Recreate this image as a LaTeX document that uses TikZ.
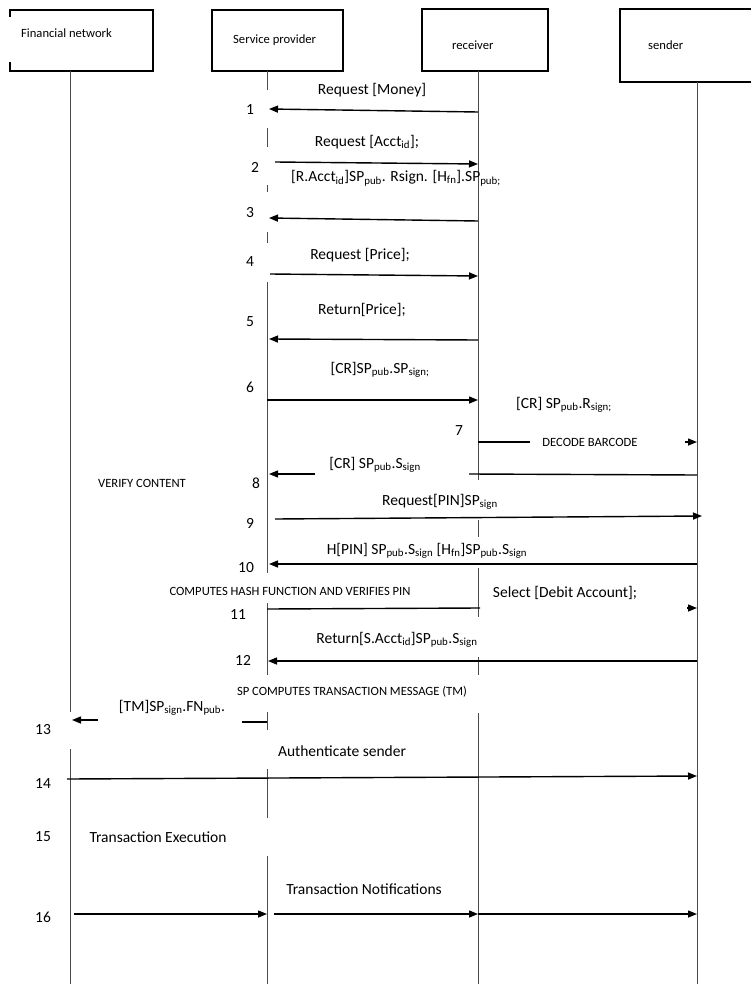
\documentclass[tikz,border=0pt]{standalone}
\usepackage{fontspec}
\setmainfont{Carlito}
\usetikzlibrary{arrows.meta}
\begin{document}
\begin{tikzpicture}[x=1pt,y=-1pt,
  hdr/.style={font=\fontsize{12.6}{14}\selectfont, anchor=west, inner sep=0pt},
  msg/.style={font=\fontsize{15.5}{18}\selectfont, inner sep=0pt},
  note/.style={font=\fontsize{12.6}{14}\selectfont, inner sep=0pt},
  num/.style={font=\fontsize{15.5}{18}\selectfont, inner sep=0pt},
  life/.style={line width=1pt, draw=black!70},
  boxline/.style={line width=1.2pt},
  msgline/.style={line width=1.4pt},
  msgarrow/.style={line width=1.4pt, -{Triangle[length=9pt,width=7pt]}},
]
\useasboundingbox (0,0) rectangle (750,984);

% lifeline positions
\coordinate (fn) at (70,0);
\coordinate (sp) at (267,0);
\coordinate (rc) at (478,0);
\coordinate (sd) at (697,0);

% header boxes
\draw[boxline] (10,17) -- (10,10) -- (153,10) -- (153,71) -- (10,71) -- (10,62);
\node[hdr] (fnT) at (21,33) {Financial network};
\draw[boxline] (212,10) rectangle (343,71);
\node[hdr] (spT) at (233,40) {Service provider};
\draw[boxline] (422,9) rectangle (548,71);
\node[hdr] (rcT) at (452,45) {receiver};
\draw[boxline] (620,9) rectangle (760,82);
\node[hdr] (sdT) at (648,45) {sender};

% lifelines
\draw[life] (fn |- 0,71) -- (fn |- 0,712) (fn |- 0,749) -- (fn |- 0,984);
\draw[life] (sp |- 0,71) -- (sp |- 0,90)
            (sp |- 0,128) -- (sp |- 0,147)
            (sp |- 0,185) -- (sp |- 0,192)
            (sp |- 0,232) -- (sp |- 0,243)
            (sp |- 0,282) -- (sp |- 0,573)
            (sp |- 0,603) -- (sp |- 0,675)
            (sp |- 0,712) -- (sp |- 0,730)
            (sp |- 0,769) -- (sp |- 0,818)
            (sp |- 0,856) -- (sp |- 0,984);
\draw[life] (rc |- 0,71) -- (rc |- 0,480)
            (rc |- 0,520) -- (rc |- 0,537)
            (rc |- 0,568) -- (rc |- 0,617)
            (rc |- 0,657) -- (rc |- 0,675)
            (rc |- 0,713) -- (rc |- 0,984);
\draw[life] (sd |- 0,82) -- (sd |- 0,984);

% 1
\draw[msgarrow] (rc |- 0,112) -- (269,109);
\node[msg] (l1) at (372,90) {Request [Money]};
\node[num] (n1) at (250,110) {1};
% 2
\draw[msgarrow] (275,162) -- (rc |- 0,164);
\node[msg] (l2) at (367,142) {Request [Acct\textsubscript{id}];};
\node[num] (n2) at (255,167) {2};
% 3
\draw[msgarrow] (rc |- 0,221) -- (269,218);
\node[msg] (l3) at (396,178) {[R.Acct\textsubscript{id}]SP\textsubscript{pub}. Rsign. [H\textsubscript{fn}].SP\textsubscript{pub;}};
\node[num] (n3) at (250,213) {3};
% 4
\draw[msgarrow] (270,274) -- (rc |- 0,276);
\node[msg] (l4) at (360,255) {Request [Price];};
\node[num] (n4) at (250,262) {4};
% 5
\draw[msgarrow] (rc |- 0,340) -- (269,339);
\node[msg] (l5) at (362,310) {Return[Price];};
\node[num] (n5) at (250,322) {5};
% 6
\draw[msgarrow] (sp |- 0,400) -- (rc |- 0,400);
\node[msg] (l6) at (380,370) {[CR]SP\textsubscript{pub}.SP\textsubscript{sign;}};
\node[num] (n6) at (250,387) {6};
% 7
\draw[msgline] (rc |- 0,442) -- (530,442);
\draw[msgarrow] (685,442) -- (sd |- 0,442);
\node[msg] (l7) at (564,405) {[CR] SP\textsubscript{pub}.R\textsubscript{sign;}};
\node[note] (d7) at (590,442) {DECODE BARCODE};
\node[num] (n7) at (459,431) {7};
% 8
\draw[msgline] (sd |- 0,475) -- (469,474);
\draw[msgarrow] (315,474) -- (269,474);
\node[msg] (l8) at (375,465) {[CR] SP\textsubscript{pub}.S\textsubscript{sign}};
\node[note] (v8) at (142,483) {VERIFY CONTENT};
\node[num] (n8) at (256,483) {8};
% 9
\draw[msgarrow] (275,519) -- (702,516);
\node[msg] (l9) at (440,502) {Request[PIN]SP\textsubscript{sign}};
\node[num] (n9) at (250,523) {9};
% 10
\draw[msgarrow] (sd |- 0,564) -- (269,564);
\node[msg] (l10) at (427,551) {H[PIN] SP\textsubscript{pub}.S\textsubscript{sign} [H\textsubscript{fn}]SP\textsubscript{pub}.S\textsubscript{sign}};
\node[num] (n10) at (246,568) {10};
\node[note] (c10) at (290,591) {COMPUTES HASH FUNCTION AND VERIFIES PIN};
% 11
\draw[msgline] (sp |- 0,609) -- (480,608);
\draw[msgarrow] (687,608) -- (sd |- 0,608);
\node[msg] (l11) at (565,593) {Select [Debit Account];};
\node[num] (n11) at (238,615) {11};
% 12
\draw[msgarrow] (sd |- 0,661) -- (268,661);
\node[msg] (l12) at (397,640) {Return[S.Acct\textsubscript{id}]SP\textsubscript{pub}.S\textsubscript{sign}};
\node[num] (n12) at (243,660) {12};
\node[note] (c12) at (352,692) {SP COMPUTES TRANSACTION MESSAGE (TM)};
% 13
\draw[msgarrow] (98,720) -- (72,720);
\draw[msgline] (242,722) -- (sp |- 0,722);
\node[msg] (l13) at (172,708) {[TM]SP\textsubscript{sign}.FN\textsubscript{pub}.};
\node[num] (n13) at (43,730) {13};
% 14
\draw[msgarrow] (67,779) -- (sd |- 0,776);
\node[msg] (l14) at (342,751) {Authenticate sender};
\node[num] (n14) at (43,784) {14};
% 15
\node[msg] (l15) at (158,837) {Transaction Execution};
\node[num] (n15) at (43,837) {15};
% 16
\draw[msgarrow] (74,914) -- (sp |- 0,914);
\draw[msgarrow] (274,914) -- (rc |- 0,914);
\draw[msgarrow] (rc |- 0,914) -- (sd |- 0,914);
\node[msg] (l16) at (364,889) {Transaction Notifications};
\node[num] (n16) at (43,917) {16};
\end{tikzpicture}
\end{document}
